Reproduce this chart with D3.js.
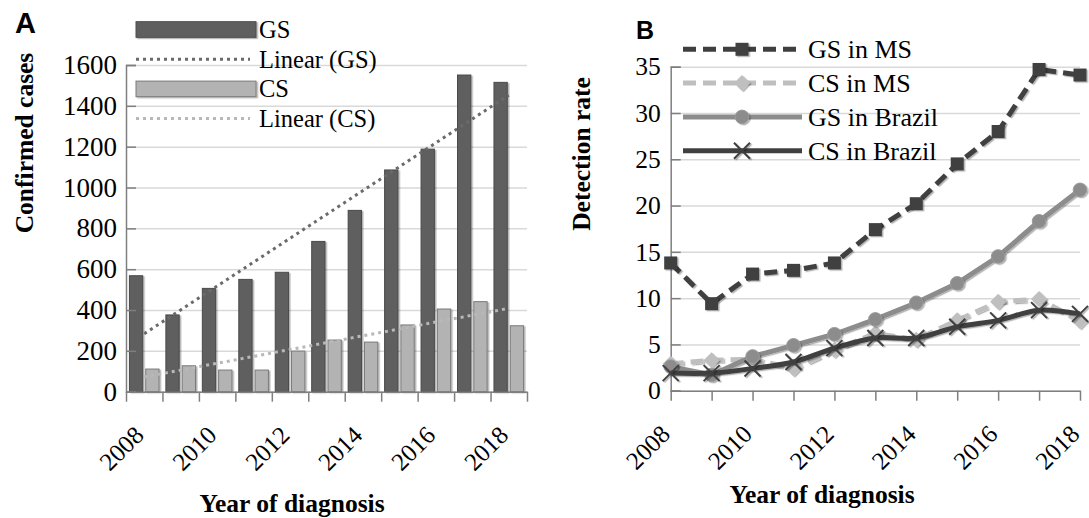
<!DOCTYPE html>
<html>
<head>
<meta charset="utf-8">
<script src="https://cdn.jsdelivr.net/npm/d3@7"></script>
<style>
    body { margin: 0; background: #fff; }
    .axis path, .axis line { stroke: #7f7f7f; stroke-width: 1.5; }
    .grid line { stroke: #d9d9d9; stroke-width: 1.5; }
    .grid path { display: none; }
</style>
</head>
<body>
<svg width="1089" height="518"></svg>
<script>
// data
const years = [2008, 2009, 2010, 2011, 2012, 2013, 2014, 2015, 2016, 2017, 2018];
const yearLabels = [2008, 2010, 2012, 2014, 2016, 2018];

// panel A: confirmed cases
const gsCases = [568, 376, 506, 550, 585, 736, 888, 1086, 1188, 1551, 1515];
const csCases = [111, 127, 106, 106, 199, 253, 243, 327, 405, 441, 323];
const casesTicks = [0, 200, 400, 600, 800, 1000, 1200, 1400, 1600];

// panel B: detection rate
const gsMS = [13.8, 9.4, 12.6, 13.0, 13.8, 17.4, 20.2, 24.5, 28.0, 34.7, 34.1];
const csMS = [2.9, 3.3, 3.4, 2.4, 4.4, 6.2, 5.5, 7.6, 9.6, 9.9, 7.5];
const gsBrazil = [2.6, 1.7, 3.7, 4.9, 6.1, 7.7, 9.5, 11.6, 14.5, 18.3, 21.7];
const csBrazil = [1.9, 1.9, 2.4, 3.1, 4.6, 5.7, 5.7, 6.9, 7.6, 8.7, 8.3];
const rateTicks = [0, 5, 10, 15, 20, 25, 30, 35];

const SERIF = "'Liberation Serif', 'Times New Roman', serif";
const SANS = "'Liberation Sans', Arial, sans-serif";

const svg = d3.select("svg");

svg.append("defs").append("filter")
    .attr("id", "shadow")
    .attr("x", "-20%").attr("y", "-20%").attr("width", "150%").attr("height", "150%")
    .append("feDropShadow")
    .attr("dx", 1.5).attr("dy", 1.2)
    .attr("stdDeviation", 0.6)
    .attr("flood-color", "#000")
    .attr("flood-opacity", 0.3);

// least squares trend over category index 1..n, like Excel's linear trendline
function linearFit(values) {
    const xs = values.map((_, i) => i + 1);
    const mx = d3.mean(xs), my = d3.mean(values);
    const slope = d3.sum(xs, (x, i) => (x - mx) * (values[i] - my)) / d3.sum(xs, x => (x - mx) ** 2);
    return values.map((_, i) => my + slope * (xs[i] - mx));
}

function serifText(sel, size) {
    return sel.style("font-family", SERIF).style("font-size", size + "px").attr("fill", "#000");
}

function yearTickLabels(g, xPos, y0, size) {
    g.selectAll("text.year")
        .data(yearLabels)
        .enter()
        .append("text")
        .attr("class", "year")
        .attr("text-anchor", "end")
        .attr("transform", d => `translate(${xPos(d) + 1},${y0 + 45}) rotate(-45)`)
        .call(serifText, size)
        .text(d => d);
}

// ---------------- panel A ----------------
function drawPanelA() {
    const g = svg.append("g");
    const x = d3.scaleBand().domain(years).range([126, 527]);
    const xSub = d3.scaleBand().domain(["GS", "CS"]).range([0, x.bandwidth()])
        .paddingInner(0.184).paddingOuter(0.21);
    const y = d3.scaleLinear().domain([0, 1600]).range([391.7, 65]);

    g.append("g").attr("class", "grid")
        .attr("transform", "translate(126,0)")
        .call(d3.axisLeft(y).tickValues(casesTicks).tickSize(-401).tickFormat(""));

    const series = [
        { key: "GS", values: gsCases, fill: "#5f5f5f", stroke: "#4a4a4a" },
        { key: "CS", values: csCases, fill: "#b3b3b3", stroke: "#7a7a7a" }
    ];
    for (const s of series) {
        g.append("g")
            .selectAll("rect")
            .data(s.values)
            .enter()
            .append("rect")
            .attr("x", (d, i) => x(years[i]) + xSub(s.key))
            .attr("y", d => y(d))
            .attr("width", xSub.bandwidth())
            .attr("height", d => y(0) - y(d))
            .attr("fill", s.fill)
            .attr("stroke", s.stroke)
            .attr("stroke-width", 1)
            .attr("filter", "url(#shadow)");
    }

    const trend = d3.line()
        .x((d, i) => x(years[i]) + x.bandwidth() / 2)
        .y(d => y(d));
    g.append("path").datum(linearFit(gsCases))
        .attr("d", trend).attr("fill", "none")
        .attr("stroke", "#6a6a6a").attr("stroke-width", 3).attr("stroke-dasharray", "3,4");
    g.append("path").datum(linearFit(csCases))
        .attr("d", trend).attr("fill", "none")
        .attr("stroke", "#b8b8b8").attr("stroke-width", 3).attr("stroke-dasharray", "3,4");

    // axes
    g.append("g").attr("class", "axis")
        .attr("transform", "translate(126,0)")
        .call(d3.axisLeft(y).tickValues(casesTicks).tickSize(-10).tickPadding(9).tickFormat(d3.format("d")))
        .call(a => a.selectAll("text").call(serifText, 27));
    const xEdges = d3.scaleLinear().domain([0, years.length]).range([126, 527]);
    g.append("g").attr("class", "axis")
        .attr("transform", "translate(0,391.7)")
        .call(d3.axisBottom(xEdges).tickValues(d3.range(years.length + 1)).tickSize(10).tickSizeOuter(0).tickFormat(""));

    yearTickLabels(g, d => x(d) + x.bandwidth() / 2, 391.7, 25);

    // legend
    const legend = [
        { label: "GS", type: "bar", fill: "#5f5f5f", stroke: "#4a4a4a" },
        { label: "Linear (GS)", type: "dot", stroke: "#6a6a6a" },
        { label: "CS", type: "bar", fill: "#b3b3b3", stroke: "#7a7a7a" },
        { label: "Linear (CS)", type: "dot", stroke: "#b8b8b8" }
    ];
    const lg = g.append("g");
    legend.forEach((d, i) => {
        const cy = 29.5 + i * 29.7;
        if (d.type === "bar") {
            lg.append("rect").attr("x", 136).attr("y", cy - 7.8).attr("width", 120).attr("height", 15.6)
                .attr("fill", d.fill).attr("stroke", d.stroke).attr("filter", "url(#shadow)");
        } else {
            lg.append("line").attr("x1", 136).attr("x2", 250).attr("y1", cy).attr("y2", cy)
                .attr("stroke", d.stroke).attr("stroke-width", 3).attr("stroke-dasharray", "3,4");
        }
        lg.append("text").attr("x", 259).attr("y", cy).attr("dy", "0.35em")
            .call(serifText, 24.5).text(d.label);
    });

    g.append("text").attr("x", 15).attr("y", 33)
        .style("font-family", SANS).style("font-weight", "bold").style("font-size", "29px")
        .text("A");
    g.append("text")
        .attr("transform", "translate(33,143) rotate(-90)")
        .attr("text-anchor", "middle").call(serifText, 25.5).style("font-weight", "bold")
        .text("Confirmed cases");
    g.append("text").attr("x", 292).attr("y", 512)
        .attr("text-anchor", "middle").call(serifText, 25.5).style("font-weight", "bold")
        .text("Year of diagnosis");
}

// ---------------- panel B ----------------
function drawPanelB() {
    const g = svg.append("g");
    const x = d3.scalePoint().domain(years).range([670.7, 1080]);
    const y = d3.scaleLinear().domain([0, 35]).range([390.7, 66.7]);

    g.append("g").attr("class", "grid")
        .attr("transform", "translate(670.7,0)")
        .call(d3.axisLeft(y).tickValues(rateTicks).tickSize(-409.3).tickFormat(""));

    g.append("g").attr("class", "axis")
        .attr("transform", "translate(670.7,0)")
        .call(d3.axisLeft(y).tickValues(rateTicks).tickSize(-10).tickPadding(10).tickFormat(d3.format("d")))
        .call(a => a.selectAll("text").call(serifText, 25.5));
    g.append("g").attr("class", "axis")
        .attr("transform", "translate(0,390.7)")
        .call(d3.axisBottom(x).tickSize(10).tickSizeOuter(0).tickFormat(""));

    yearTickLabels(g, d => x(d), 390.7, 25);

    const series = [
        { label: "GS in MS", values: gsMS, color: "#3f3f3f", dash: "13,7", marker: "square", curve: d3.curveLinear },
        { label: "CS in MS", values: csMS, color: "#bfbfbf", dash: "13,7", marker: "diamond", curve: d3.curveLinear },
        { label: "GS in Brazil", values: gsBrazil, color: "#8c8c8c", dash: null, marker: "circle", curve: d3.curveLinear },
        { label: "CS in Brazil", values: csBrazil, color: "#404040", dash: null, marker: "cross", curve: d3.curveCatmullRom }
    ];

    function drawMarker(sel, s) {
        if (s.marker === "square") {
            sel.append("rect").attr("x", -6.5).attr("y", -6.5).attr("width", 13).attr("height", 13)
                .attr("fill", s.color);
        } else if (s.marker === "diamond") {
            sel.append("path").attr("d", "M0,-8L8,0L0,8L-8,0Z").attr("fill", s.color);
        } else if (s.marker === "circle") {
            sel.append("circle").attr("r", 6.8).attr("fill", s.color).attr("stroke", "#9a9a9a");
        } else {
            sel.append("path").attr("d", "M-8,-8L8,8M-8,8L8,-8")
                .attr("stroke", s.color).attr("stroke-width", 2).attr("fill", "none");
        }
    }

    for (const s of series) {
        const line = d3.line().x((d, i) => x(years[i])).y(d => y(d)).curve(s.curve);
        g.append("path").datum(s.values)
            .attr("d", line).attr("fill", "none")
            .attr("stroke", s.color).attr("stroke-width", 5)
            .attr("stroke-dasharray", s.dash)
            .attr("filter", "url(#shadow)");
        g.append("g").selectAll("g")
            .data(s.values)
            .enter()
            .append("g")
            .attr("transform", (d, i) => `translate(${x(years[i])},${y(d)})`)
            .attr("filter", "url(#shadow)")
            .each(function () { drawMarker(d3.select(this), s); });
    }

    // legend
    series.forEach((s, i) => {
        const cy = 49.3 + i * 33.8;
        const row = g.append("g");
        row.append("line").attr("x1", 683).attr("x2", 802).attr("y1", cy).attr("y2", cy)
            .attr("stroke", s.color).attr("stroke-width", 5).attr("stroke-dasharray", s.dash);
        const m = row.append("g").attr("transform", `translate(742,${cy})`).attr("filter", "url(#shadow)");
        drawMarker(m, s);
        row.append("text").attr("x", 808).attr("y", cy).attr("dy", "0.35em")
            .call(serifText, 26).text(s.label);
    });

    g.append("text").attr("x", 636).attr("y", 39.3)
        .style("font-family", SANS).style("font-weight", "bold").style("font-size", "25px")
        .text("B");
    g.append("text")
        .attr("transform", "translate(590,154) rotate(-90)")
        .attr("text-anchor", "middle").call(serifText, 25.5).style("font-weight", "bold")
        .text("Detection rate");
    g.append("text").attr("x", 822).attr("y", 503)
        .attr("text-anchor", "middle").call(serifText, 25.5).style("font-weight", "bold")
        .text("Year of diagnosis");
}

drawPanelA();
drawPanelB();
</script>
</body>
</html>
